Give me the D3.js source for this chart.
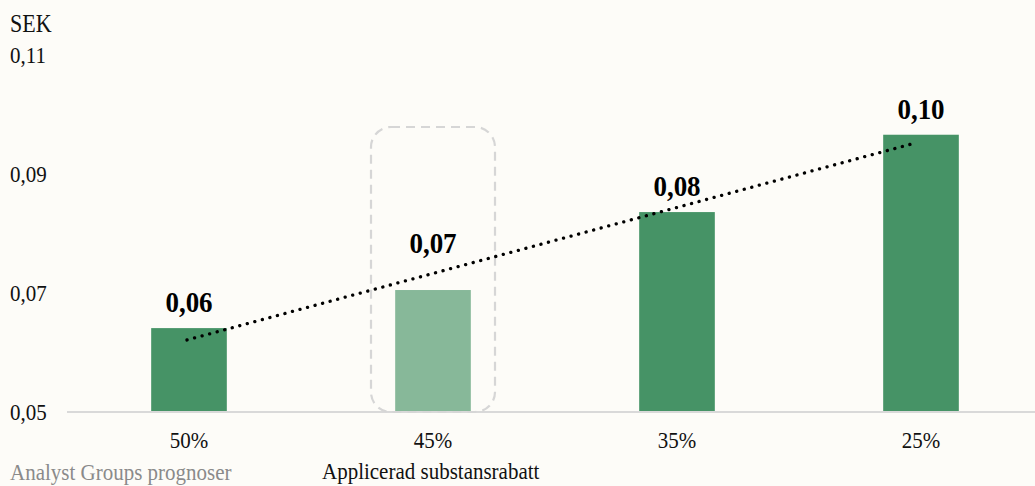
<!DOCTYPE html>
<html>
<head>
<meta charset="utf-8">
<script src="https://cdn.jsdelivr.net/npm/d3@7"></script>
<style>
  html, body { margin: 0; padding: 0; background: #fdfcf8; }
  svg { display: block; font-family: "Liberation Serif", "Times New Roman", serif; }
</style>
</head>
<body>
<svg id="chart" width="1035" height="486"></svg>
<script>
// Substance discount scenarios and the resulting value per share (SEK)
const categories = ["50%", "45%", "35%", "25%"];
const values = [0.0641, 0.0705, 0.0836, 0.0966];
const highlighted = ["45%"];
const yTicks = [0.05, 0.07, 0.09, 0.11];

const W = 1035, H = 486;
const SY = 1.1; // slight vertical stretch of the type
const svg = d3.select("#chart");

const x = d3.scaleBand().domain(categories).range([67, 1043]).paddingInner(0.69).paddingOuter(0.345);
const y = d3.scaleLinear().domain([0.05, 0.11]).range([412, 55]);
const fmt = v => d3.format(".2f")(v).replace(".", ",");
const place = (px, py) => `translate(${px},${py}) scale(1,${SY})`;

svg.append("rect").attr("width", W).attr("height", H).attr("fill", "#fdfcf8");

// y tick labels (no axis line)
svg.append("g").selectAll("text").data(yTicks).join("text")
  .attr("transform", d => place(10, y(d))).attr("dy", "0.35em")
  .attr("font-size", 21).attr("fill", "#111")
  .text(d => fmt(d));

svg.append("text").attr("transform", place(10, 24)).attr("dy", "0.35em")
  .attr("font-size", 22).attr("fill", "#111").text("SEK");

// bars
svg.append("g").selectAll("rect").data(categories).join("rect")
  .attr("x", d => x(d))
  .attr("width", x.bandwidth())
  .attr("y", (d, i) => y(values[i]))
  .attr("height", (d, i) => y(0.05) - y(values[i]))
  .attr("fill", d => highlighted.includes(d) ? "#87b899" : "#469366");

// baseline axis
const xAxis = d3.axisBottom(x).tickSize(0).tickPadding(0);
const gx = svg.append("g").attr("transform", `translate(0,${y(0.05)})`).call(xAxis);
gx.select(".domain").attr("d", `M67,0H${W}`).attr("stroke", "#d9d9d9").attr("stroke-width", 2);
gx.selectAll("text")
  .attr("y", null).attr("dy", "0.35em")
  .attr("transform", place(0, 28))
  .attr("font-size", 21).attr("fill", "#111")
  .attr("font-family", "Liberation Serif, serif");

// dashed rounded frame around highlighted scenario
highlighted.forEach(c => {
  const cx = x(c) + x.bandwidth() / 2;
  svg.append("rect")
    .attr("x", cx - 62).attr("y", 127)
    .attr("width", 124).attr("height", y(0.05) - 127)
    .attr("rx", 20).attr("ry", 20)
    .attr("fill", "none").attr("stroke", "#d6d6d6")
    .attr("stroke-width", 2.2).attr("stroke-dasharray", "9 6");
});

// value labels (the highlighted one sits above the trend line)
svg.append("g").selectAll("text").data(categories).join("text")
  .attr("transform", (d, i) => place(x(d) + x.bandwidth() / 2,
        y(values[i]) - (highlighted.includes(d) ? 37 : 16)))
  .attr("text-anchor", "middle")
  .attr("font-size", 27).attr("font-weight", "bold").attr("fill", "#000")
  .text((d, i) => fmt(values[i]));

// linear trend line (least squares over scenario index)
const n = values.length;
const xs = d3.range(1, n + 1);
const mx = d3.mean(xs), my = d3.mean(values);
const slope = d3.sum(xs, (xi, i) => (xi - mx) * (values[i] - my)) / d3.sum(xs, xi => (xi - mx) ** 2);
const icpt = my - slope * mx;
const trend = [
  [x(categories[0]) + x.bandwidth() / 2 - 2, y(icpt + slope * 1)],
  [x(categories[n - 1]) + x.bandwidth() / 2 - 4, y(icpt + slope * n)]
];
svg.append("path")
  .attr("d", d3.line()(trend))
  .attr("stroke", "#000").attr("stroke-width", 3.3)
  .attr("stroke-linecap", "round").attr("stroke-dasharray", "0.1 7.7")
  .attr("fill", "none");

// footer texts
svg.append("text").attr("transform", place(10, 472)).attr("dy", "0.35em")
  .attr("font-size", 21).attr("fill", "#8a8a8a").text("Analyst Groups prognoser");
svg.append("text").attr("transform", place(322, 471)).attr("dy", "0.35em")
  .attr("font-size", 21).attr("fill", "#111").text("Applicerad substansrabatt");
</script>
</body>
</html>
